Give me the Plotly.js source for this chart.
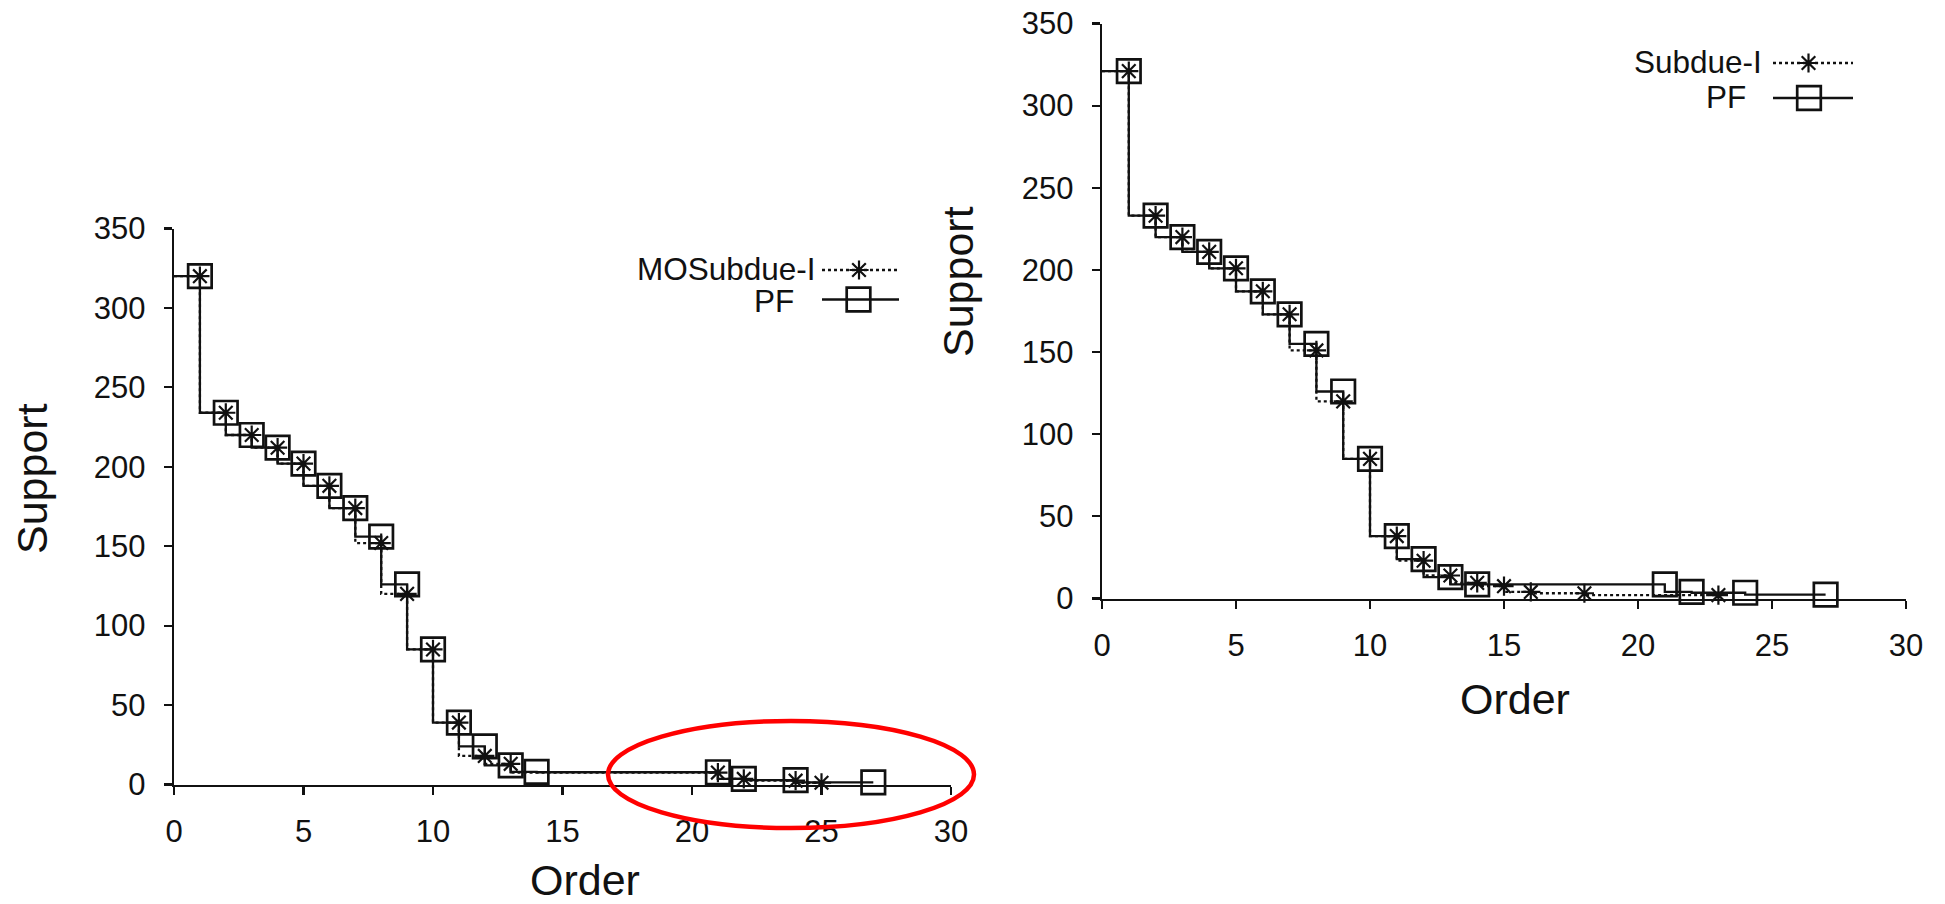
<!DOCTYPE html>
<html><head><meta charset="utf-8">
<script src="https://cdn.plot.ly/plotly-3.0.1.min.js"></script>
<style>html,body{margin:0;padding:0;background:#fff;} #chart{width:1945px;height:904px;}</style>
</head><body><div id="chart"></div>
<script>
// ---------------- data ----------------
// Left panel: MOSubdue-I vs PF
const orderMOS      = [1,2,3,4,5,6,7,8,9,10,11,12,13,21,22,24,25];
const supportMOS    = [320,234,220,212,202,188,174,152,120,85,39,18,13,7.5,3.5,2.4,1.1];
const orderPFLeft   = [1,2,3,4,5,6,7,8,9,10,11,12,13,14,21,22,24,27];
const supportPFLeft = [320,234,220,212,202,188,174,156,126,85,39,24,12,8,7.7,3.5,2.8,1.3];
// Right panel: Subdue-I vs PF
const orderSub       = [1,2,3,4,5,6,7,8,9,10,11,12,13,14,15,16,18,23];
const supportSub     = [321,233,220,211,201,187,173,151,120,85,38,23,14,9.5,7.5,4,3.2,2.1];
const orderPFRight   = [1,2,3,4,5,6,7,8,9,10,11,12,13,14,21,22,24,27];
const supportPFRight = [321,233,220,211,201,187,173,155,126,85,38,24,13,8.6,8.6,4,3.5,2.3];

const xTicks = [0,5,10,15,20,25,30];
const yTicks = [0,50,100,150,200,250,300,350];
const xRange = [0,30];
const yRange = [0,350];
const legendLeft  = ['MOSubdue-I','PF'];
const legendRight = ['Subdue-I','PF'];
const xTitle = 'Order', yTitle = 'Support';

// ---------------- styling ----------------
const W = 1945, H = 904;
const INK = '#111';
const FONT = 'Liberation Sans, Arial, Helvetica, sans-serif';
const px = v => v / W, py = v => 1 - v / H;

function stepLine(order, support, dotted, xa, ya) {
  return {
    x: [xRange[0]].concat(order), y: [support[0]].concat(support),
    xaxis: xa, yaxis: ya, type: 'scatter', mode: 'lines', hoverinfo: 'skip',
    line: {shape: 'vh', color: INK, width: 2.3, dash: dotted ? '3px,3px' : 'solid'},
    showlegend: false
  };
}
function markers(order, support, star, xa, ya) {
  return {
    x: order, y: support, xaxis: xa, yaxis: ya, type: 'scatter', mode: 'markers',
    marker: star ? {symbol: 'asterisk-open', size: 16, color: INK, line: {color: INK, width: 2.2}}
                 : {symbol: 'square-open', size: 23.5, color: INK, line: {color: INK, width: 2.7}},
    showlegend: false, cliponaxis: false
  };
}

const traces = [
  stepLine(orderMOS, supportMOS, true, 'x', 'y'),
  markers(orderMOS, supportMOS, true, 'x', 'y'),
  stepLine(orderPFLeft, supportPFLeft, false, 'x', 'y'),
  markers(orderPFLeft, supportPFLeft, false, 'x', 'y'),
  stepLine(orderSub, supportSub, true, 'x2', 'y2'),
  markers(orderSub, supportSub, true, 'x2', 'y2'),
  stepLine(orderPFRight, supportPFRight, false, 'x2', 'y2'),
  markers(orderPFRight, supportPFRight, false, 'x2', 'y2')
];

function xAxis(domain, anchor) {
  return {domain: domain, anchor: anchor, range: xRange, tickvals: xTicks, ticktext: xTicks.map(String),
    showgrid: false, zeroline: false, showline: true, linecolor: INK, linewidth: 2.2,
    ticks: 'outside', ticklen: 8, tickwidth: 2.2, tickcolor: INK, ticklabelstandoff: 10,
    tickfont: {family: FONT, size: 31, color: INK}, fixedrange: true};
}
function yAxis(domain, anchor) {
  return {domain: domain, anchor: anchor, range: yRange, tickvals: yTicks, ticktext: yTicks.map(String),
    showgrid: false, zeroline: false, showline: true, linecolor: INK, linewidth: 2.2,
    ticks: 'outside', ticklen: 8, tickwidth: 2.2, tickcolor: INK, ticklabelstandoff: 12,
    tickfont: {family: FONT, size: 31, color: INK}, fixedrange: true};
}

function ann(text, x, y, size, opts) {
  return Object.assign({text: text, x: px(x), y: py(y), xref: 'paper', yref: 'paper',
    showarrow: false, xanchor: 'center', yanchor: 'middle', borderpad: 0,
    font: {family: FONT, size: size, color: INK}}, opts || {});
}

function legendKey(lineX0, lineX1, cx, cy, kind) {
  const s = [];
  s.push({type: 'line', xref: 'paper', yref: 'paper', x0: px(lineX0), x1: px(lineX1), y0: py(cy), y1: py(cy),
          line: {color: INK, width: 2.3, dash: kind === 'star' ? '3px,3px' : 'solid'}});
  if (kind === 'star') {
    const a = 9.6, d = 6.8;
    const p = (x, y) => px(x) + ',' + py(y);
    const path = 'M' + p(cx - a, cy) + 'L' + p(cx + a, cy) +
                 'M' + p(cx, cy - a) + 'L' + p(cx, cy + a) +
                 'M' + p(cx - d, cy - d) + 'L' + p(cx + d, cy + d) +
                 'M' + p(cx - d, cy + d) + 'L' + p(cx + d, cy - d);
    s.push({type: 'path', xref: 'paper', yref: 'paper', path: path, line: {color: INK, width: 2.2}});
  } else {
    const h = 11.8;
    s.push({type: 'rect', xref: 'paper', yref: 'paper', x0: px(cx - h), x1: px(cx + h), y0: py(cy + h), y1: py(cy - h),
            line: {color: INK, width: 2.7}, fillcolor: 'rgba(0,0,0,0)'});
  }
  return s;
}

const shapes = [].concat(
  legendKey(822, 898, 859, 270, 'star'),
  legendKey(822, 899, 858.5, 299.5, 'square'),
  legendKey(1773, 1853, 1808.5, 63, 'star'),
  legendKey(1773, 1853, 1809, 98, 'square'),
  [{type: 'circle', xref: 'paper', yref: 'paper', x0: px(608), x1: px(974), y0: py(828), y1: py(721),
    line: {color: '#ff0000', width: 4.5}, layer: 'above'}]
);

const annotations = [
  ann(yTitle, 32, 479, 43, {textangle: -90}),
  ann(xTitle, 585, 880, 43),
  ann(yTitle, 958, 282, 43, {textangle: -90}),
  ann(xTitle, 1515, 699, 43),
  ann(legendLeft[0], 817, 268.5, 31.5, {xanchor: 'right'}),
  ann(legendLeft[1], 795, 300.5, 31.5, {xanchor: 'right'}),
  ann(legendRight[0], 1763, 62, 31.5, {xanchor: 'right'}),
  ann(legendRight[1], 1747, 97.5, 31.5, {xanchor: 'right'})
];

const layout = {
  width: W, height: H, margin: {l: 0, r: 0, t: 0, b: 0},
  paper_bgcolor: '#fff', plot_bgcolor: '#fff', showlegend: false,
  xaxis: xAxis([px(174), px(951)], 'y'),
  yaxis: yAxis([py(784.5), py(228.5)], 'x'),
  xaxis2: xAxis([px(1102), px(1906)], 'y2'),
  yaxis2: yAxis([py(598.5), py(23.5)], 'x2'),
  shapes: shapes, annotations: annotations,
  font: {family: FONT, color: INK}
};

Plotly.newPlot('chart', traces, layout, {staticPlot: true, displayModeBar: false});
</script></body></html>
